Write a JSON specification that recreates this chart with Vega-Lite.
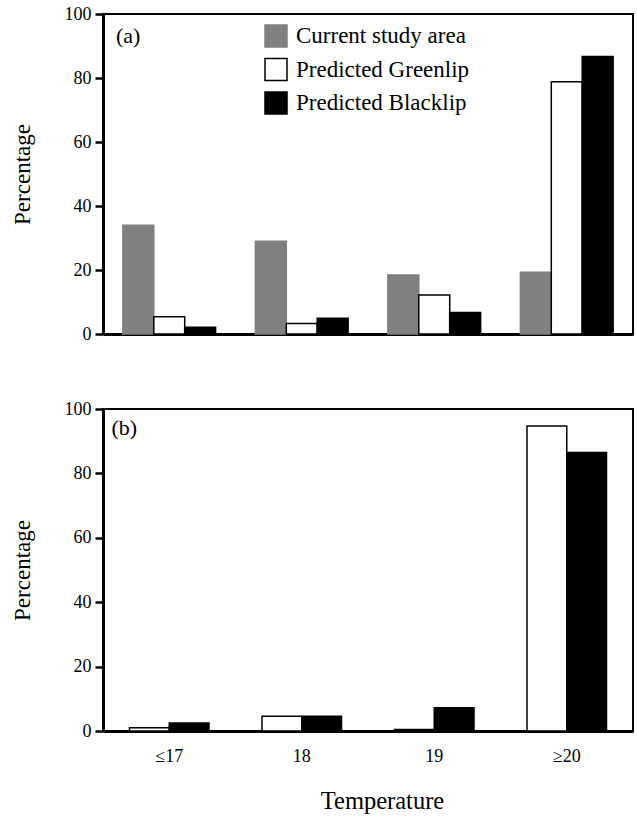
{
  "$schema": "https://vega.github.io/schema/vega-lite/v6.json",
  "padding": {"left": 10, "top": 4, "right": 3, "bottom": 5},
  "background": "white",
  "config": {
    "font": "Liberation Serif",
    "view": {"stroke": "black", "strokeWidth": 2},
    "axis": {
      "grid": false,
      "domainColor": "black",
      "domainWidth": 3,
      "labelFont": "Liberation Serif",
      "titleFont": "Liberation Serif",
      "labelFontSize": 18,
      "titleFontSize": 23,
      "titleFontWeight": "normal",
      "labelColor": "black",
      "titleColor": "black",
      "tickColor": "black",
      "tickWidth": 2.5
    },
    "legend": {
      "labelFont": "Liberation Serif",
      "labelFontSize": 23,
      "labelColor": "black",
      "labelLimit": 400
    }
  },
  "spacing": 55,
  "resolve": {"scale": {"x": "independent", "y": "independent", "xOffset": "independent", "fill": "independent", "stroke": "independent"}},
  "vconcat": [
    {
      "width": 530,
      "height": 320,
      "layer": [
        {
          "data": {"values": [
            {"temp": "≤17", "series": "Current study area", "pct": 34},
            {"temp": "≤17", "series": "Predicted Greenlip", "pct": 5.4},
            {"temp": "≤17", "series": "Predicted Blacklip", "pct": 2.1},
            {"temp": "18", "series": "Current study area", "pct": 29},
            {"temp": "18", "series": "Predicted Greenlip", "pct": 3.3},
            {"temp": "18", "series": "Predicted Blacklip", "pct": 4.9},
            {"temp": "19", "series": "Current study area", "pct": 18.4},
            {"temp": "19", "series": "Predicted Greenlip", "pct": 12.2},
            {"temp": "19", "series": "Predicted Blacklip", "pct": 6.7},
            {"temp": "≥20", "series": "Current study area", "pct": 19.3},
            {"temp": "≥20", "series": "Predicted Greenlip", "pct": 78.8},
            {"temp": "≥20", "series": "Predicted Blacklip", "pct": 86.7}
          ]},
          "mark": {"type": "bar", "strokeWidth": 1.5},
          "encoding": {
            "x": {"field": "temp", "type": "nominal",
                  "scale": {"domain": ["≤17", "18", "19", "≥20"], "paddingInner": 0.3, "paddingOuter": 0.15},
                  "axis": {"title": null, "labels": false, "ticks": false}},
            "xOffset": {"field": "series", "type": "nominal",
                        "scale": {"domain": ["Current study area", "Predicted Greenlip", "Predicted Blacklip"], "paddingInner": 0}},
            "y": {"field": "pct", "type": "quantitative", "scale": {"domain": [0, 100]}, "title": "Percentage",
                  "axis": {"title": "Percentage", "values": [0, 20, 40, 60, 80, 100], "ticks": true, "tickSize": 8, "labelPadding": 4, "titlePadding": 30}},
            "fill": {"field": "series", "type": "nominal",
                     "scale": {"domain": ["Current study area", "Predicted Greenlip", "Predicted Blacklip"], "range": ["#808080", "#ffffff", "#000000"]},
                     "legend": {"title": null, "orient": "none", "legendX": 161, "legendY": 10, "symbolType": "square", "symbolSize": 484, "symbolStrokeWidth": 1.5, "rowPadding": 5.5, "labelOffset": 8, "padding": 0}},
            "stroke": {"field": "series", "type": "nominal",
                       "scale": {"domain": ["Current study area", "Predicted Greenlip", "Predicted Blacklip"], "range": ["#808080", "#000000", "#000000"]},
                       "legend": {"title": null, "orient": "none", "legendX": 161, "legendY": 10, "symbolType": "square", "symbolSize": 484, "symbolStrokeWidth": 1.5, "rowPadding": 5.5, "labelOffset": 8, "padding": 0}}
          }
        },
        {
          "data": {"values": [{"label": "(a)", "temp": "≤17", "pct": 93}]},
          "mark": {"type": "text", "align": "left", "baseline": "middle", "fontSize": 22, "font": "Liberation Serif", "dx": -7, "color": "black"},
          "encoding": {
            "x": {"field": "temp", "type": "nominal", "bandPosition": 0, "scale": {"domain": ["≤17", "18", "19", "≥20"]}},
            "y": {"field": "pct", "type": "quantitative", "scale": {"domain": [0, 100]}, "title": "Percentage"},
            "text": {"field": "label"}
          }
        }
      ]
    },
    {
      "width": 530,
      "height": 322,
      "layer": [
        {
          "data": {"values": [
            {"temp": "≤17", "series": "Predicted Greenlip", "pct": 1},
            {"temp": "≤17", "series": "Predicted Blacklip", "pct": 2.5},
            {"temp": "18", "series": "Predicted Greenlip", "pct": 4.6},
            {"temp": "18", "series": "Predicted Blacklip", "pct": 4.6},
            {"temp": "19", "series": "Predicted Greenlip", "pct": 0.5},
            {"temp": "19", "series": "Predicted Blacklip", "pct": 7.2},
            {"temp": "≥20", "series": "Predicted Greenlip", "pct": 94.7},
            {"temp": "≥20", "series": "Predicted Blacklip", "pct": 86.5}
          ]},
          "mark": {"type": "bar", "strokeWidth": 1.5},
          "encoding": {
            "x": {"field": "temp", "type": "nominal",
                  "scale": {"domain": ["≤17", "18", "19", "≥20"], "paddingInner": 0.4, "paddingOuter": 0.2},
                  "axis": {"title": "Temperature", "labelAngle": 0, "ticks": false, "labelPadding": 16, "titlePadding": 24, "titleX": 279, "titleFontSize": 24.5}},
            "xOffset": {"field": "series", "type": "nominal",
                        "scale": {"domain": ["Predicted Greenlip", "Predicted Blacklip"], "paddingInner": 0}},
            "y": {"field": "pct", "type": "quantitative", "scale": {"domain": [0, 100]}, "title": "Percentage",
                  "axis": {"title": "Percentage", "values": [0, 20, 40, 60, 80, 100], "ticks": true, "tickSize": 8, "labelPadding": 4, "titlePadding": 30}},
            "fill": {"field": "series", "type": "nominal",
                     "scale": {"domain": ["Predicted Greenlip", "Predicted Blacklip"], "range": ["#ffffff", "#000000"]},
                     "legend": null},
            "stroke": {"field": "series", "type": "nominal",
                       "scale": {"domain": ["Predicted Greenlip", "Predicted Blacklip"], "range": ["#000000", "#000000"]},
                       "legend": null}
          }
        },
        {
          "data": {"values": [{"label": "(b)", "temp": "≤17", "pct": 94}]},
          "mark": {"type": "text", "align": "left", "baseline": "middle", "fontSize": 22, "font": "Liberation Serif", "dx": -18, "color": "black"},
          "encoding": {
            "x": {"field": "temp", "type": "nominal", "bandPosition": 0, "scale": {"domain": ["≤17", "18", "19", "≥20"]}},
            "y": {"field": "pct", "type": "quantitative", "scale": {"domain": [0, 100]}, "title": "Percentage"},
            "text": {"field": "label"}
          }
        }
      ]
    }
  ]
}
